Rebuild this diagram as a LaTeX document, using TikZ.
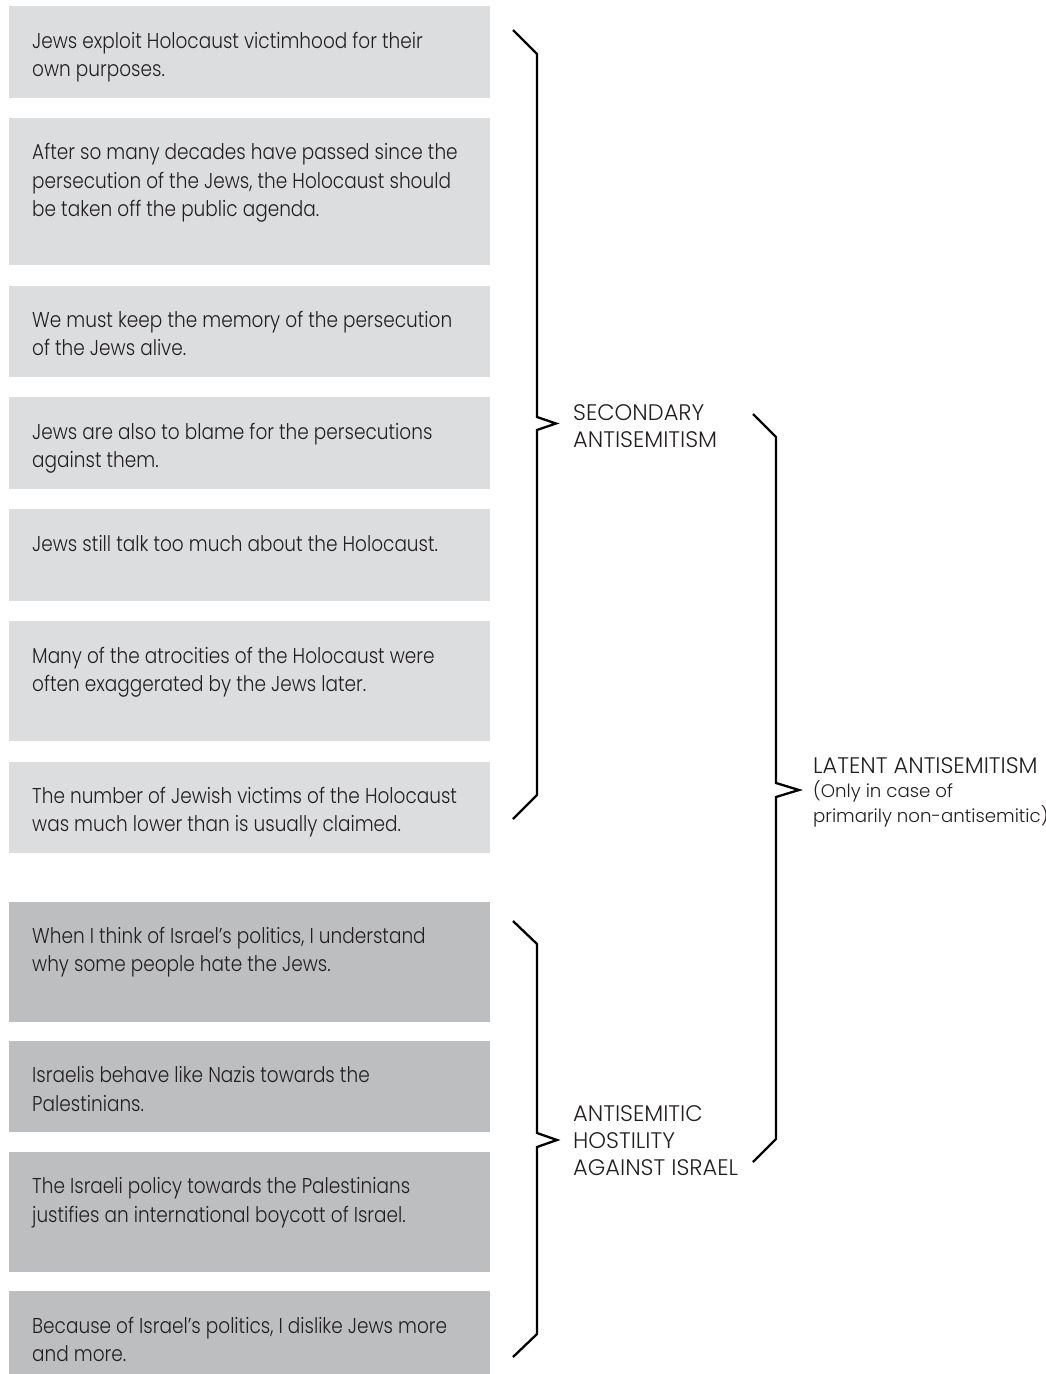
\documentclass[tikz,border=0pt]{standalone}
\usepackage{fontspec}
\IfFontExistsTF{Poppins Light}{%
  \setmainfont{Poppins Light}
  \newfontfamily\statementfont{Poppins Light}[FakeStretch=0.86]
}{%
  \setmainfont{Poppins}
  \newfontfamily\statementfont{Poppins}[FakeStretch=0.86]
}
\usepackage{tikz}
\usetikzlibrary{positioning}
\definecolor{lightgrey}{HTML}{DCDDDE}
\definecolor{darkgrey}{HTML}{BCBEC0}
\definecolor{inkgrey}{HTML}{231F20}
\tikzset{
    statement-box/.style = {fill=lightgrey, rectangle, inner sep=0pt, minimum width=481pt, minimum height=91.5pt},
    israel-box/.style = {statement-box, fill=darkgrey},
    statement-text/.style = {anchor=base west, align=left, inner sep=0pt, text=inkgrey, font=\statementfont\fontsize{21.5}{28.5}\selectfont},
    group-label/.style = {anchor=base west, align=left, inner sep=0pt, text=inkgrey, font=\fontsize{22.5}{27}\selectfont},
    bracket-line/.style = {draw=black, line width=2.3pt, line join=miter},
}

\begin{document}
\begin{tikzpicture}[x=1pt, y=-1pt]
\useasboundingbox (0,0) rectangle (1046,1374);

% secondary antisemitism statements
\node[statement-box, anchor=north west] (s1) at (9,6) {};
\node[statement-box, minimum height=147pt, below=20pt of s1] (s2) {};
\node[statement-box, below=20pt of s2] (s3) {};
\node[statement-box, below=20pt of s3] (s4) {};
\node[statement-box, below=20pt of s4] (s5) {};
\node[statement-box, minimum height=120pt, below=20pt of s5] (s6) {};
\node[statement-box, below=20pt of s6] (s7) {};

% hostility against Israel statements
\node[israel-box, minimum height=120pt, below=48pt of s7] (i1) {};
\node[israel-box, below=19pt of i1] (i2) {};
\node[israel-box, minimum height=120pt, below=19pt of i2] (i3) {};
\node[israel-box, minimum height=86pt, below=19pt of i3] (i4) {};

% texts, anchored at the baseline of their last line
\node[statement-text] (t1) at ([shift={(23pt,-70.5pt)}]s1.north west) {Jews exploit Holocaust victimhood for their\\own purposes.};
\node[statement-text] (t2) at ([shift={(23pt,-99pt)}]s2.north west) {After so many decades have passed since the\\persecution of the Jews, the Holocaust should\\be taken off the public agenda.};
\node[statement-text] (t3) at ([shift={(23pt,-70.5pt)}]s3.north west) {We must keep the memory of the persecution\\of the Jews alive.};
\node[statement-text] (t4) at ([shift={(23pt,-70.5pt)}]s4.north west) {Jews are also to blame for the persecutions\\against them.};
\node[statement-text] (t5) at ([shift={(23pt,-42pt)}]s5.north west) {Jews still talk too much about the Holocaust.};
\node[statement-text] (t6) at ([shift={(23pt,-70.5pt)}]s6.north west) {Many of the atrocities of the Holocaust were\\often exaggerated by the Jews later.};
\node[statement-text] (t7) at ([shift={(23pt,-70.5pt)}]s7.north west) {The number of Jewish victims of the Holocaust\\was much lower than is usually claimed.};
\node[statement-text] (t8) at ([shift={(23pt,-70.5pt)}]i1.north west) {When I think of Israel’s politics, I understand\\why some people hate the Jews.};
\node[statement-text] (t9) at ([shift={(23pt,-70.5pt)}]i2.north west) {Israelis behave like Nazis towards the\\Palestinians.};
\node[statement-text] (t10) at ([shift={(23pt,-70.5pt)}]i3.north west) {The Israeli policy towards the Palestinians\\justifies an international boycott of Israel.};
\node[statement-text] (t11) at ([shift={(23pt,-70.5pt)}]i4.north west) {Because of Israel’s politics, I dislike Jews more\\and more.};

% group labels
\node[group-label] (secondary) at (573,447) {SECONDARY\\ANTISEMITISM};
\node[group-label] (hostility) at (573,1175) {ANTISEMITIC\\HOSTILITY\\AGAINST ISRAEL};
\node[group-label, font=\fontsize{18.2}{24.5}\selectfont] (latent) at (813,822) {\fontsize{22.5}{24.5}\selectfont LATENT ANTISEMITISM\\(Only in case of\\primarily non-antisemitic)};

% brackets
\draw[bracket-line] (513,30) -- (537,54) -- (537,417) -- (556,423.5) -- (537,430) -- (537,795) -- (513,819);
\draw[bracket-line] (753,414) -- (776,437) -- (776,783) -- (799,790) -- (776,797) -- (776,1139) -- (753,1162);
\draw[bracket-line] (513,921) -- (537,944) -- (537,1133) -- (557,1140) -- (537,1147) -- (537,1334) -- (513,1357);
\end{tikzpicture}
\end{document}
